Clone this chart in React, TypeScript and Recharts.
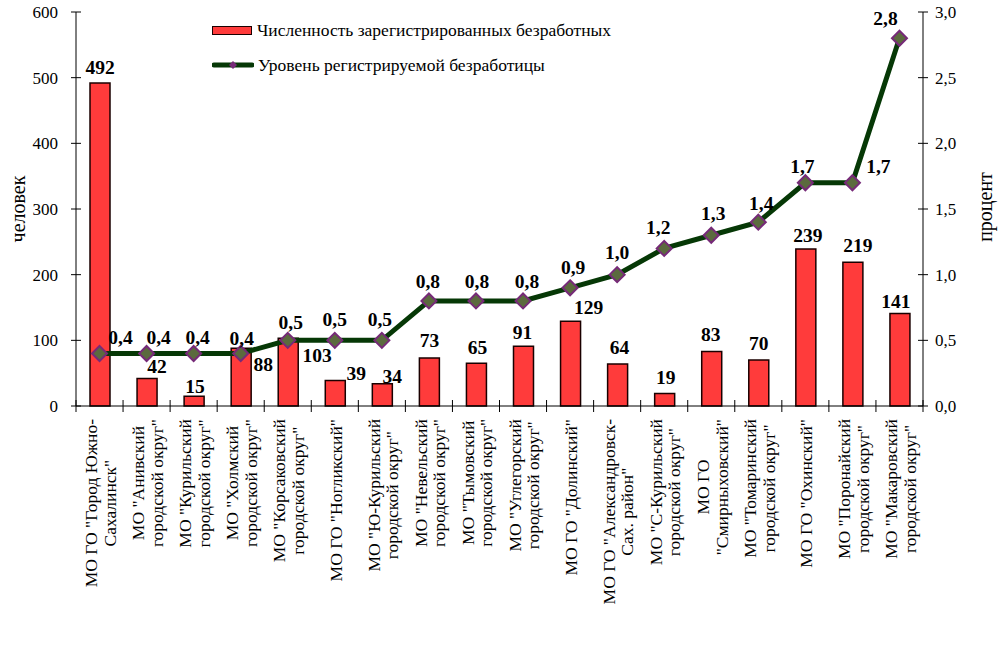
import React, { useLayoutEffect, useRef, useState } from 'react';
import { ComposedChart, Bar, Line, XAxis, YAxis, LabelList } from 'recharts';

// районы (подписи по оси X, строки через \n)
const districts = [
  'МО ГО "Город Южно-\nСахалинск"',
  'МО "Анивский\nгородской округ"',
  'МО "Курильский\nгородской округ"',
  'МО "Холмский\nгородской округ"',
  'МО "Корсаковский\nгородской округ"',
  'МО ГО "Ногликский"',
  'МО "Ю-Курильский\nгородской округ"',
  'МО "Невельский\nгородской округ"',
  'МО "Тымовский\nгородской округ"',
  'МО "Углегорский\nгородской округ"',
  'МО ГО "Долинский"',
  'МО ГО "Александровск-\nСах. район"',
  'МО "С-Курильский\nгородской округ"',
  'МО ГО\n"Смирныховский"',
  'МО "Томаринский\nгородской округ"',
  'МО ГО "Охинский"',
  'МО "Поронайский\nгородской округ"',
  'МО "Макаровский\nгородской округ"',
];

// численность зарегистрированных безработных, человек
const unemployed = [492, 42, 15, 88, 103, 39, 34, 73, 65, 91, 129, 64, 19, 83, 70, 239, 219, 141];

// уровень регистрируемой безработицы, процент
const rate = [0.4, 0.4, 0.4, 0.4, 0.5, 0.5, 0.5, 0.8, 0.8, 0.8, 0.9, 1.0, 1.2, 1.3, 1.4, 1.7, 1.7, 2.8];

const leftTicks = [0, 100, 200, 300, 400, 500, 600];
const rightTicks = [0, 0.5, 1, 1.5, 2, 2.5, 3];

// nudges for the value labels (dx, dy of text centre), like the hand-placed labels in the original
const barLabelShift = [[0, -15], [10, -12], [1, -10], [22, 16], [29, 17], [21, -7], [10, -7], [0, -18], [1, -16], [-1, -14], [18, -14], [2, -16], [1, -16], [-1, -17], [0, -17], [2, -14], [5, -17], [-4, -12]];
const rateLabelShift = [[21, -16], [12, -16], [4, -16], [1, -15], [3, -18], [0, -21], [-2, -21], [-1, -19], [1, -19], [4, -19], [3, -20], [0, -22], [-6, -21], [2, -22], [3, -19], [-3, -16], [26, -16], [-14, -20]];

const data = districts.map((name, i) => ({ name, unemployed: unemployed[i], rate: rate[i] }));

const SERIF = '"Liberation Serif", "Times New Roman", serif';
const PLOT_LEFT = 76;
const PLOT_RIGHT = 923;
const BAND = (PLOT_RIGHT - PLOT_LEFT) / districts.length;
const CAT_FONT = 17.5;

const fmt = (v: number) => v.toFixed(1).replace('.', ',');

function CategoryTick(props: any) {
  const { x, y, payload, index } = props;
  const lines = String(payload.value).split('\n');
  const ref = useRef<SVGGElement>(null);
  const [half, setHalf] = useState(lines.join('').length * 2.2);
  useLayoutEffect(() => {
    if (!ref.current) return;
    const texts = Array.from(ref.current.querySelectorAll('text')) as SVGTextElement[];
    const w = Math.max(...texts.map((t) => t.getComputedTextLength()));
    if (Math.abs(w / 2 - half) > 0.5) setHalf(w / 2);
  });
  const cy = y + 13 + half;
  const last = index === districts.length - 1;
  return (
    <g>
      <line x1={x - BAND / 2} x2={x - BAND / 2} y1={y - 6} y2={y + 6} stroke="#000" />
      {last && <line x1={x + BAND / 2} x2={x + BAND / 2} y1={y - 6} y2={y + 6} stroke="#000" />}
      <g ref={ref}>
        {lines.map((l, k) => {
          const lx = x + 1 + (k - (lines.length - 1) / 2) * 18.5;
          return (
            <text key={k} x={lx} y={cy} transform={`rotate(-90 ${lx} ${cy})`} textAnchor="middle"
              dominantBaseline="central" fontSize={CAT_FONT} fontFamily={SERIF} fill="#000">{l}</text>
          );
        })}
      </g>
    </g>
  );
}

function LeftTick({ x, y, payload }: any) {
  return (
    <g>
      <line x1={x - 5} x2={x + 5} y1={y} y2={y} stroke="#000" />
      <text x={x - 18} y={y + 6} textAnchor="end" fontSize={17} fontFamily={SERIF} fill="#000">{payload.value}</text>
    </g>
  );
}

function RightTick({ x, y, payload }: any) {
  return (
    <g>
      <line x1={x - 5} x2={x + 5} y1={y} y2={y} stroke="#000" />
      <text x={x + 12} y={y + 6} textAnchor="start" fontSize={17} fontFamily={SERIF} fill="#000">{fmt(payload.value)}</text>
    </g>
  );
}

function Diamond({ cx, cy }: any) {
  if (cx == null || cy == null) return null;
  const r = 7.5;
  return (
    <path d={`M${cx},${cy - r} L${cx + r},${cy} L${cx},${cy + r} L${cx - r},${cy} Z`}
      fill="#5b6a3e" stroke="#762a78" strokeWidth={2} />
  );
}

function BarValue({ x, y, width, value, index }: any) {
  const [dx, dy] = barLabelShift[index] || [0, -14];
  return (
    <text x={x + width / 2 + dx} y={y + dy + 6.5} textAnchor="middle" fontSize={19.5} fontWeight="bold"
      fontFamily={SERIF} fill="#000">{value}</text>
  );
}

function RateValue({ x, y, value, index }: any) {
  const [dx, dy] = rateLabelShift[index] || [0, -18];
  return (
    <text x={x + dx} y={y + dy + 6.5} textAnchor="middle" fontSize={19.5} fontWeight="bold"
      fontFamily={SERIF} fill="#000">{fmt(value)}</text>
  );
}

export default function App() {
  return (
    <div style={{ position: 'absolute', left: 0, top: 0, width: 998, height: 654, background: '#fff' }}>
      <ComposedChart width={998} height={654} data={data} margin={{ top: 12, right: 0, bottom: 0, left: 0 }}>
        <XAxis dataKey="name" interval={0} height={248} tickLine={false} tickSize={0} tickMargin={0}
          axisLine={{ stroke: '#000' }} tick={<CategoryTick />} />
        <YAxis yAxisId="left" width={76} domain={[0, 600]} ticks={leftTicks} tickLine={false} tickSize={0}
          tickMargin={0} axisLine={{ stroke: '#000' }} tick={<LeftTick />} />
        <YAxis yAxisId="right" orientation="right" width={75} domain={[0, 3]} ticks={rightTicks} tickLine={false}
          tickSize={0} tickMargin={0} axisLine={{ stroke: '#000' }} tick={<RightTick />} />
        <Bar yAxisId="left" dataKey="unemployed" barSize={20} fill="#ff3b3b" stroke="#1a0000" strokeWidth={1.5}
          isAnimationActive={false}>
          <LabelList dataKey="unemployed" content={<BarValue />} />
        </Bar>
        <Line yAxisId="right" type="linear" dataKey="rate" stroke="#063806" strokeWidth={5} dot={<Diamond />}
          activeDot={false} isAnimationActive={false}>
          <LabelList dataKey="rate" content={<RateValue />} />
        </Line>
      </ComposedChart>

      <div style={{ position: 'absolute', left: 18, top: 209, transform: 'translate(-50%, -50%) rotate(-90deg)',
        fontFamily: SERIF, fontSize: 20, whiteSpace: 'nowrap' }}>человек</div>
      <div style={{ position: 'absolute', left: 985, top: 207, transform: 'translate(-50%, -50%) rotate(-90deg)',
        fontFamily: SERIF, fontSize: 20, whiteSpace: 'nowrap' }}>процент</div>

      <div style={{ position: 'absolute', left: 212, top: 19, fontFamily: SERIF, fontSize: 17.5, lineHeight: '22px' }}>
        <div style={{ display: 'flex', alignItems: 'center', height: 22 }}>
          <span style={{ display: 'inline-block', width: 38, height: 7, background: '#ff3b3b',
            border: '1.5px solid #1a0000', marginRight: 5 }} />
          Численность зарегистрированных безработных
        </div>
        <div style={{ display: 'flex', alignItems: 'center', height: 22, marginTop: 13 }}>
          <svg width={42} height={10} style={{ marginRight: 4 }}>
            <line x1={2} x2={40} y1={5} y2={5} stroke="#063806" strokeWidth={5} strokeLinecap="round" />
            <path d="M21,1 L25,5 L21,9 L17,5 Z" fill="#762a78" />
          </svg>
          Уровень регистрируемой безработицы
        </div>
      </div>
    </div>
  );
}
